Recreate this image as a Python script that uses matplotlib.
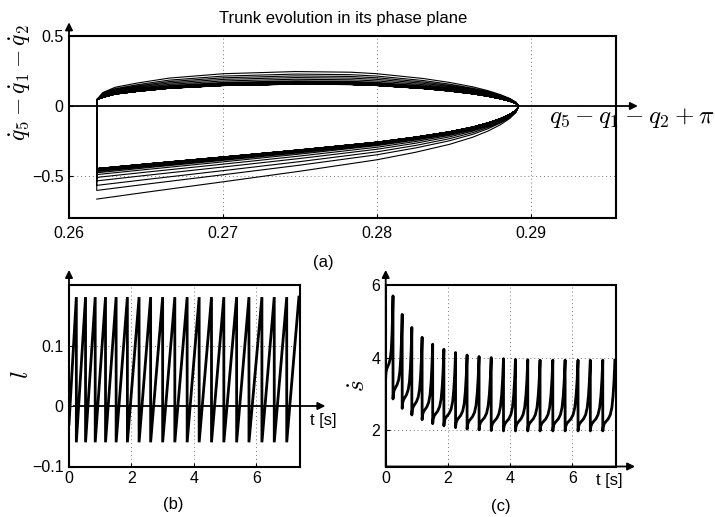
import numpy as np
import matplotlib
matplotlib.use("Agg")
import matplotlib.pyplot as plt

plt.rcParams['font.family'] = ['Liberation Sans', 'DejaVu Sans']
plt.rcParams['mathtext.fontset'] = 'cm'

# ---------------- data ----------------
# impact (step) times in seconds
step_times = [0.235, 0.53, 0.84, 1.17, 1.51, 1.87, 2.245, 2.615, 3.0, 3.39,
              3.785, 4.17, 4.565, 4.96, 5.37, 5.765, 6.18, 6.575, 6.975, 7.365]

# panel (b): l
l_initial = -0.03
l_top = 0.18
l_bottom = -0.06

# panel (c): s-dot
sdot_initial = 3.45
sdot_peaks = [5.70, 5.19, 4.83, 4.56, 4.37, 4.23, 4.14, 4.07, 4.03, 4.00,
              3.97, 3.95, 3.94, 3.93, 3.93, 3.93, 3.93, 3.93, 3.93, 3.93]
sdot_mins = [2.86, 2.60, 2.42, 2.29, 2.18, 2.12, 2.07, 2.03, 2.01, 1.99,
             1.98, 1.98, 1.98, 1.98, 1.98, 1.98, 1.98, 1.98, 1.98]
# shape of one step of s-dot (phase in step, fraction between min and peak)
sdot_shape_u = [0.0, 0.04, 0.12, 0.25, 0.45, 0.62, 0.75, 0.85, 0.93, 1.0]
sdot_shape_f = [0.0, 0.06, 0.10, 0.13, 0.17, 0.23, 0.33, 0.50, 0.72, 1.0]

# panel (a): phase-plane branches of the converged cycle
phase_lower_x = [0.2618, 0.2650, 0.2700, 0.2750, 0.2800, 0.2825, 0.2847,
                 0.2862, 0.2872, 0.2880, 0.2886, 0.2890, 0.2892]
phase_lower_y = [-0.447, -0.414, -0.364, -0.313, -0.258, -0.222, -0.184,
                 -0.150, -0.120, -0.090, -0.060, -0.032, 0.0]
phase_upper_x = [0.2618, 0.2622, 0.2630, 0.2644, 0.2665, 0.2700, 0.2747,
                 0.2783, 0.2800, 0.2830, 0.2847, 0.2862, 0.2872, 0.2880,
                 0.2886, 0.2890, 0.2892]
phase_upper_y = [0.045, 0.062, 0.086, 0.105, 0.128, 0.148, 0.158, 0.155,
                 0.148, 0.126, 0.108, 0.088, 0.070, 0.052, 0.035, 0.018, 0.0]
# per-cycle extremes
cycle_lower_start = [-0.665, -0.603, -0.567, -0.535, -0.510, -0.490, -0.477,
                     -0.468, -0.462, -0.458, -0.455, -0.453, -0.451, -0.450,
                     -0.449, -0.448, -0.448, -0.447, -0.447, -0.447]
cycle_upper_peak = [0.246, 0.228, 0.215, 0.203, 0.191, 0.180, 0.172, 0.167,
                    0.164, 0.162, 0.160, 0.159, 0.158, 0.158, 0.157, 0.157,
                    0.157, 0.157, 0.156, 0.156]

# ---------------- figure ----------------
W, H = 715, 517
fig = plt.figure(figsize=(W / 100, H / 100), dpi=100)

def fx(px):
    return px / W

def fy(py):
    return 1 - py / H

ax_a = fig.add_axes([fx(69), fy(218), fx(616) - fx(69), fy(36) - fy(218)])
ax_b = fig.add_axes([fx(69), fy(466.5), fx(300) - fx(69), fy(285) - fy(466.5)])
ax_c = fig.add_axes([fx(385.7), fy(466.5), fx(616) - fx(385.7), fy(285) - fy(466.5)])

for ax in (ax_a, ax_b, ax_c):
    for sp in ax.spines.values():
        sp.set_linewidth(1.5)
        sp.set_color('black')
    ax.tick_params(direction='in', length=3, width=0.8, labelsize=11.5,
                   colors='black', pad=4)
    ax.grid(True, linestyle=(0, (1, 3)), color='#777777', linewidth=0.7)
    ax.set_axisbelow(True)

arrow_kw = dict(arrowstyle='-|>', color='black', lw=1.3,
                mutation_scale=11, shrinkA=0, shrinkB=0)

# ---- panel (a) ----
lx = np.array(phase_lower_x)
ly = np.array(phase_lower_y)
ux = np.array(phase_upper_x)
uy = np.array(phase_upper_y)
px_all, py_all = [], []
for k in range(len(cycle_lower_start)):
    sl = cycle_lower_start[k] / phase_lower_y[0]
    su = cycle_upper_peak[k] / max(phase_upper_y)
    yl = ly * sl
    yu = uy * su
    yu[0] = uy[0]
    px_all.extend(list(lx) + list(ux[::-1]))
    py_all.extend(list(yl) + list(yu[::-1]))
ax_a.plot(px_all, py_all, color='black', lw=0.8)
ax_a.set_xlim(0.26, 0.2955)
ax_a.set_ylim(-0.8, 0.5)
ax_a.set_xticks([0.26, 0.27, 0.28, 0.29])
ax_a.set_xticklabels(['0.26', '0.27', '0.28', '0.29'])
ax_a.set_yticks([-0.5, 0, 0.5])
ax_a.set_yticklabels(['\u22120.5', '0', '0.5'])
ax_a.tick_params(axis='x', pad=6)
ax_a.annotate('', xy=(1.04, 0), xycoords=('axes fraction', 'data'),
              xytext=(0.0, 0), textcoords=('axes fraction', 'data'),
              arrowprops=arrow_kw, annotation_clip=False)
ax_a.annotate('', xy=(0, 1.075), xycoords='axes fraction',
              xytext=(0, 0), textcoords='axes fraction',
              arrowprops=arrow_kw, annotation_clip=False)

# ---- panel (b) ----
tb, lb = [0.0], [l_initial]
for k, T in enumerate(step_times):
    tb.append(T)
    lb.append(l_top)
    if k < len(step_times) - 1:
        tb.append(T)
        lb.append(l_bottom)
ax_b.plot(tb, lb, color='black', lw=2.0, solid_joinstyle='miter')
ax_b.set_xlim(0, 7.4)
ax_b.set_ylim(-0.1, 0.2)
ax_b.set_xticks([0, 2, 4, 6])
ax_b.set_yticks([-0.1, 0, 0.1])
ax_b.set_yticklabels(['\u22120.1', '0', '0.1'])
ax_b.tick_params(axis='x', pad=3)
ax_b.annotate('', xy=(1.11, 0), xycoords=('axes fraction', 'data'),
              xytext=(0.02, 0), textcoords=('axes fraction', 'data'),
              arrowprops=arrow_kw, annotation_clip=False)
ax_b.annotate('', xy=(0, 1.083), xycoords='axes fraction',
              xytext=(0, 0), textcoords='axes fraction',
              arrowprops=arrow_kw, annotation_clip=False)

# ---- panel (c) ----
su_ = np.array(sdot_shape_u)
sf_ = np.array(sdot_shape_f)
tc, sc = [], []
starts = [0.0] + step_times[:-1]
mins = [sdot_initial] + sdot_mins
for k in range(len(step_times)):
    t0, t1 = starts[k], step_times[k]
    lo, hi = mins[k], sdot_peaks[k]
    tc.extend(list(t0 + su_ * (t1 - t0)))
    sc.extend(list(lo + sf_ * (hi - lo)))
ax_c.plot(tc, sc, color='black', lw=2.0)
ax_c.set_xlim(0, 7.4)
ax_c.set_ylim(1, 6)
ax_c.set_xticks([0, 2, 4, 6])
ax_c.set_yticks([2, 4, 6])
ax_c.tick_params(axis='x', pad=3)
ax_c.annotate('', xy=(1.083, 1), xycoords=('axes fraction', 'data'),
              xytext=(0, 1), textcoords=('axes fraction', 'data'),
              arrowprops=arrow_kw, annotation_clip=False)
ax_c.annotate('', xy=(0, 1.083), xycoords='axes fraction',
              xytext=(0, 0), textcoords='axes fraction',
              arrowprops=arrow_kw, annotation_clip=False)

# ---- texts ----
fig.text(fx(343.5), fy(18), 'Trunk evolution in its phase plane',
         ha='center', va='center', fontsize=12)
fig.text(fx(20), fy(82), r'$\dot{q}_5-\dot{q}_1-\dot{q}_2$', rotation=90,
         ha='center', va='center', fontsize=17)
fig.text(fx(549), fy(118), r'$q_5-q_1-q_2+\pi$', ha='left', va='center',
         fontsize=18)
fig.text(fx(323), fy(263), '(a)', ha='center', va='center', fontsize=12)
fig.text(fx(173), fy(504), '(b)', ha='center', va='center', fontsize=12)
fig.text(fx(501), fy(507), '(c)', ha='center', va='center', fontsize=12)
fig.text(fx(21), fy(375), r'$l$', rotation=90, ha='center', va='center',
         fontsize=18)
fig.text(fx(358), fy(386), r'$\dot{s}$', rotation=90, ha='center',
         va='center', fontsize=18)
fig.text(fx(323), fy(420), 't [s]', ha='center', va='center', fontsize=12)
fig.text(fx(609), fy(481), 't [s]', ha='center', va='center', fontsize=12)

fig.savefig('out.png', dpi=100)
